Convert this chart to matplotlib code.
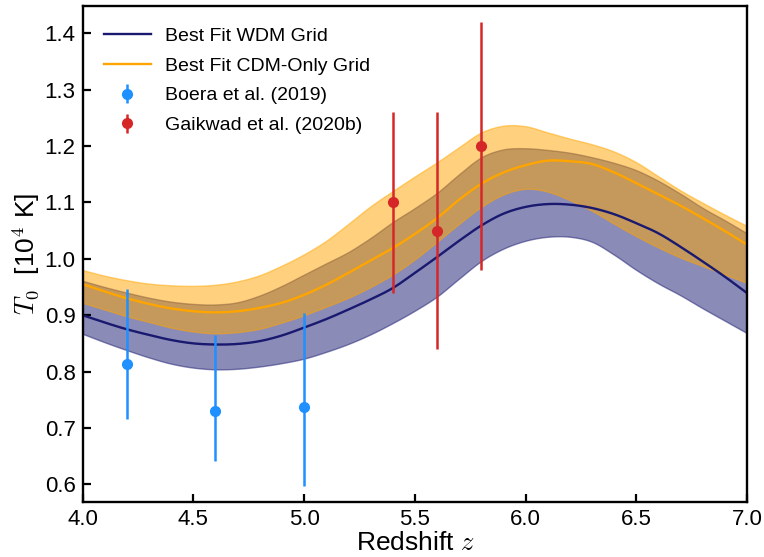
import numpy as np
import matplotlib
matplotlib.use("Agg")
import matplotlib.pyplot as plt

plt.rcParams["font.family"] = ["Liberation Sans", "DejaVu Sans"]
plt.rcParams["mathtext.fontset"] = "cm"

# Redshift grid of the model curves
z_grid = [4.0, 4.1, 4.2, 4.3, 4.4, 4.5, 4.6, 4.7, 4.8, 4.9, 5.0,
          5.1, 5.2, 5.3, 5.4, 5.5, 5.6, 5.7, 5.8, 5.9, 6.0,
          6.1, 6.2, 6.3, 6.4, 6.5, 6.6, 6.7, 6.8, 6.9, 7.0]

# Best-fit WDM grid: median and band
wdm_mid = [0.900, 0.887, 0.875, 0.865, 0.856, 0.850, 0.848, 0.849, 0.854, 0.864, 0.878,
           0.893, 0.910, 0.928, 0.948, 0.975, 1.003, 1.032, 1.059, 1.080, 1.092,
           1.097, 1.096, 1.090, 1.079, 1.063, 1.045, 1.021, 0.995, 0.968, 0.939]
wdm_lo = [0.867, 0.852, 0.838, 0.825, 0.814, 0.807, 0.804, 0.805, 0.809, 0.815, 0.823,
          0.835, 0.849, 0.866, 0.886, 0.908, 0.933, 0.965, 0.996, 1.018, 1.032,
          1.039, 1.039, 1.030, 1.007, 0.980, 0.956, 0.935, 0.912, 0.890, 0.868]
wdm_hi = [0.961, 0.950, 0.940, 0.931, 0.924, 0.920, 0.919, 0.923, 0.935, 0.952, 0.972,
          0.992, 1.012, 1.037, 1.065, 1.090, 1.117, 1.150, 1.180, 1.194, 1.196,
          1.193, 1.188, 1.180, 1.170, 1.157, 1.138, 1.115, 1.090, 1.068, 1.045]

# Best-fit CDM-only grid: median and band
cdm_mid = [0.955, 0.942, 0.930, 0.920, 0.912, 0.907, 0.905, 0.907, 0.913, 0.922, 0.936,
           0.954, 0.975, 0.997, 1.019, 1.044, 1.072, 1.105, 1.133, 1.153, 1.166,
           1.174, 1.173, 1.168, 1.153, 1.134, 1.114, 1.094, 1.072, 1.049, 1.025]
cdm_lo = [0.922, 0.910, 0.898, 0.888, 0.878, 0.871, 0.868, 0.870, 0.876, 0.887, 0.900,
          0.915, 0.931, 0.950, 0.972, 0.999, 1.030, 1.062, 1.092, 1.114, 1.124,
          1.119, 1.104, 1.085, 1.062, 1.040, 1.020, 1.002, 0.987, 0.972, 0.957]
cdm_hi = [0.980, 0.970, 0.962, 0.956, 0.953, 0.952, 0.954, 0.960, 0.971, 0.988, 1.008,
          1.032, 1.062, 1.093, 1.120, 1.146, 1.171, 1.198, 1.224, 1.236, 1.235,
          1.224, 1.213, 1.203, 1.190, 1.171, 1.146, 1.121, 1.099, 1.078, 1.058]

# Boera et al. (2019)
boera_z = [4.2, 4.6, 5.0]
boera_T = [0.813, 0.730, 0.737]
boera_err_lo = [0.097, 0.088, 0.140]
boera_err_hi = [0.133, 0.135, 0.167]

# Gaikwad et al. (2020b)
gaik_z = [5.4, 5.6, 5.8]
gaik_T = [1.10, 1.05, 1.20]
gaik_err = [0.16, 0.21, 0.22]


def smooth(x, y, n=12):
    """Catmull-Rom curve through the tabulated points, for drawing."""
    x = np.asarray(x, float)
    y = np.asarray(y, float)
    xp = np.concatenate([[2 * x[0] - x[1]], x, [2 * x[-1] - x[-2]]])
    yp = np.concatenate([[2 * y[0] - y[1]], y, [2 * y[-1] - y[-2]]])
    xs, ys = [], []
    t = np.linspace(0, 1, n, endpoint=False)
    for i in range(1, len(xp) - 2):
        for arr, out in ((xp, xs), (yp, ys)):
            p0, p1, p2, p3 = arr[i - 1:i + 3]
            out.append(0.5 * ((2 * p1) + (-p0 + p2) * t
                              + (2 * p0 - 5 * p1 + 4 * p2 - p3) * t ** 2
                              + (-p0 + 3 * p1 - 3 * p2 + p3) * t ** 3))
    xs = np.concatenate(xs + [[x[-1]]])
    ys = np.concatenate(ys + [[y[-1]]])
    return xs, ys


fig = plt.figure(figsize=(7.64, 5.57), dpi=100)
ax = fig.add_axes([0.108, 0.099, 0.870, 0.890])

wdm_color = "midnightblue"
cdm_color = "orange"

zs, wl = smooth(z_grid, wdm_lo)
_, wh = smooth(z_grid, wdm_hi)
_, wm = smooth(z_grid, wdm_mid)
_, cl = smooth(z_grid, cdm_lo)
_, ch = smooth(z_grid, cdm_hi)
_, cm = smooth(z_grid, cdm_mid)

ax.fill_between(zs, wl, wh, color=wdm_color, alpha=0.5, lw=1)
ax.fill_between(zs, cl, ch, color=cdm_color, alpha=0.5, lw=1)
ax.plot(zs, wm, color=wdm_color, lw=1.7, label="Best Fit WDM Grid")
ax.plot(zs, cm, color=cdm_color, lw=1.7, label="Best Fit CDM-Only Grid")

ax.errorbar(boera_z, boera_T, yerr=[boera_err_lo, boera_err_hi], fmt="o",
            color="dodgerblue", ms=7, elinewidth=1.8, capsize=0,
            label="Boera et al. (2019)")
ax.errorbar(gaik_z, gaik_T, yerr=gaik_err, fmt="o",
            color="tab:red", ms=7, elinewidth=1.8, capsize=0,
            label="Gaikwad et al. (2020b)")

ax.set_xlim(4.0, 7.0)
ax.set_ylim(0.569, 1.448)
ax.set_xticks([4.0, 4.5, 5.0, 5.5, 6.0, 6.5, 7.0])
ax.set_yticks([0.6, 0.7, 0.8, 0.9, 1.0, 1.1, 1.2, 1.3, 1.4])
ax.xaxis.set_major_formatter(matplotlib.ticker.FormatStrFormatter("%.1f"))
ax.yaxis.set_major_formatter(matplotlib.ticker.FormatStrFormatter("%.1f"))
ax.tick_params(direction="in", length=6, width=1.6, labelsize=16, pad=5)
for sp in ax.spines.values():
    sp.set_linewidth(1.7)

ax.set_xlabel(r"Redshift $z$", fontsize=19, labelpad=1)
ax.set_ylabel(r"$T_0$  [10$^4$ K]", fontsize=19, labelpad=2)

ax.legend(loc="upper left", frameon=False, fontsize=14,
          handlelength=2.4, handletextpad=0.75, borderaxespad=0.7,
          labelspacing=0.62)

fig.savefig("out.png", dpi=100)
